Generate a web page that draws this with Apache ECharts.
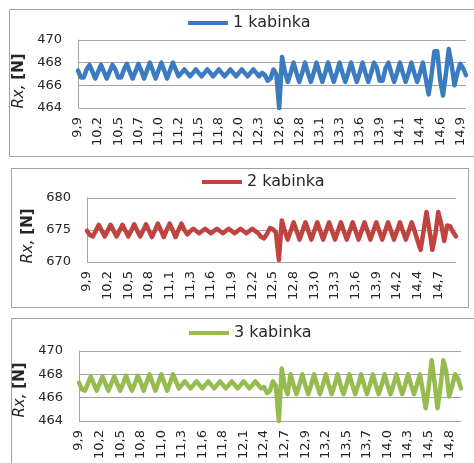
<!DOCTYPE html>
<html>
<head>
<meta charset="utf-8">
<script src="https://cdn.jsdelivr.net/npm/echarts@6/dist/echarts.min.js"></script>
<style>
  html, body { margin: 0; padding: 0; background: #ffffff; }
  #chart { width: 474px; height: 463px; }
</style>
</head>
<body>
<div id="chart"></div>
<script>
// Rx force per cabin over time; samples are equally spaced, every 7th sample carries a time label.
const seriesNames = ['1 kabinka', '2 kabinka', '3 kabinka'];

const ticks1 = ['9,9','10,2','10,5','10,7','11,0','11,2','11,5','11,8','12,0','12,3',
                '12,6','12,8','13,1','13,3','13,6','13,9','14,1','14,4','14,6','14,9'];
const ticks2 = ['9,9','10,2','10,5','10,8','11,1','11,3','11,6','11,9','12,2','12,5',
                '12,8','13,0','13,3','13,6','13,9','14,2','14,4','14,7'];
const ticks3 = ['9,9','10,2','10,5','10,8','11,0','11,3','11,6','11,8','12,1','12,4',
                '12,7','12,9','13,2','13,5','13,7','14,0','14,3','14,5','14,8'];

const cabin1 = [
  467.3,466.7,466.7,467.4,467.8,467.2,466.6,467.2,467.8,467.2,
  466.6,467.2,467.8,467.4,466.7,466.7,467.4,467.9,467.2,466.6,
  467.2,467.9,467.3,466.6,467.3,468.0,467.3,466.6,467.3,468.0,
  467.3,466.6,467.3,468.0,467.4,466.8,467.1,467.4,467.1,466.8,
  467.1,467.4,467.1,466.8,467.1,467.4,467.1,466.8,467.1,467.4,
  467.1,466.8,467.1,467.4,467.1,466.8,467.1,467.4,467.1,466.8,
  467.1,467.4,467.1,466.8,467.1,466.9,466.4,466.6,467.4,467.0,
  464.0,468.5,467.2,466.3,467.1,468.0,467.1,466.3,467.1,468.0,
  467.1,466.3,467.1,468.0,467.1,466.3,467.1,468.0,467.1,466.3,
  467.1,468.0,467.1,466.3,467.1,468.0,467.1,466.3,467.1,468.0,
  467.1,466.3,467.1,468.0,467.5,466.4,466.4,467.5,468.0,467.1,
  466.3,467.1,468.0,467.1,466.3,467.1,468.0,467.1,466.3,467.1,
  468.0,466.6,465.2,466.9,469.0,469.0,466.5,465.1,467.0,469.2,
  467.8,466.0,467.1,467.9,467.5,466.9
];

const cabin2 = [
  674.9,674.2,674.0,674.9,675.8,674.9,674.0,674.9,675.8,674.9,
  674.0,674.9,675.8,674.9,674.0,674.9,675.9,674.9,674.0,674.9,
  675.9,674.9,673.9,674.9,676.0,675.0,673.9,675.0,676.0,675.0,
  673.9,675.0,676.0,675.0,674.3,674.8,675.2,674.85,674.5,674.85,
  675.2,674.85,674.5,674.85,675.2,674.85,674.5,674.85,675.2,674.85,
  674.5,674.85,675.2,674.85,674.5,674.85,675.2,674.85,674.5,673.9,
  673.7,674.4,675.3,675.1,674.6,670.3,676.5,674.8,673.5,674.85,
  676.2,674.85,673.5,674.85,676.2,674.85,673.5,674.85,676.2,674.85,
  673.5,674.85,676.2,674.85,673.5,674.85,676.2,674.85,673.5,674.85,
  676.2,674.85,673.5,674.85,676.2,674.85,673.5,674.85,676.2,674.85,
  673.5,674.85,676.2,674.85,673.5,674.85,676.2,674.85,673.5,674.85,
  676.2,674.8,673.3,671.9,674.8,677.8,675.0,671.9,674.3,677.8,
  675.9,673.3,675.7,675.6,674.7,674.0
];

const cabin3 = [
  467.3,466.7,466.6,467.2,467.8,467.2,466.6,467.2,467.8,467.2,
  466.6,467.2,467.8,467.2,466.6,467.2,467.9,467.2,466.6,467.2,
  467.9,467.3,466.6,467.3,468.0,467.3,466.6,467.3,468.0,467.3,
  466.6,467.3,468.0,467.4,466.8,467.1,467.4,467.1,466.8,467.1,
  467.4,467.1,466.8,467.1,467.4,467.1,466.8,467.1,467.4,467.1,
  466.8,467.1,467.4,467.1,466.8,467.1,467.4,467.1,466.8,467.1,
  467.4,467.1,466.8,466.9,466.4,466.6,467.4,467.0,464.0,468.5,
  467.0,466.3,468.0,467.1,466.3,467.1,468.0,467.1,466.3,467.1,
  468.0,467.1,466.3,467.1,468.0,467.1,466.3,467.1,468.0,467.1,
  466.3,467.1,468.0,467.1,466.3,467.1,468.0,467.1,466.3,467.1,
  468.0,467.1,466.3,467.1,468.0,467.1,466.3,467.1,468.0,467.1,
  466.3,467.1,468.0,467.1,466.3,467.1,468.0,466.6,465.1,466.9,
  469.2,467.3,465.1,466.9,469.2,468.2,466.1,467.0,468.0,467.6,
  466.8
];

const colors = ['#3b7bc0', '#c0433f', '#96bb4e'];
const yRanges = [[464, 470, 2], [670, 680, 5], [464, 470, 2]];
const LABEL_STEP = 7;

const FONT = 'DejaVu Sans';
const TEXT = '#262626';
const GRID_LINE = '#a5a5a5';

const panels = [
  { ticks: ticks1, values: cabin1, grid: { left: 78, top: 40, width: 388, height: 68 },
    legend: { left: 188, top: 15 }, nameGap: 40, namePad: 14, box: [9.5, 9.5, 480, 147] },
  { ticks: ticks2, values: cabin2, grid: { left: 87, top: 198, width: 369, height: 64 },
    legend: { left: 202, top: 174 }, nameGap: 49, namePad: 12, box: [11.5, 168.5, 457, 139] },
  { ticks: ticks3, values: cabin3, grid: { left: 79, top: 351, width: 382, height: 70 },
    legend: { left: 189, top: 325 }, nameGap: 43, namePad: 8, box: [11.5, 318.5, 470, 160] }
];

const option = {
  animation: false,
  backgroundColor: '#ffffff',
  graphic: panels.map(p => ({
    type: 'rect', silent: true, z: -10,
    shape: { x: p.box[0], y: p.box[1], width: p.box[2], height: p.box[3] },
    style: { fill: '#ffffff', stroke: '#a0a0a0', lineWidth: 1 }
  })),
  legend: panels.map((p, k) => ({
    data: [seriesNames[k]],
    left: p.legend.left, top: p.legend.top, padding: 0,
    icon: 'rect', itemWidth: 40, itemHeight: 4,
    textStyle: { fontFamily: FONT, fontSize: 16, color: TEXT }
  })),
  grid: panels.map(p => Object.assign({ containLabel: false }, p.grid)),
  xAxis: panels.map((p, k) => ({
    type: 'category', gridIndex: k, boundaryGap: false,
    data: p.values.map((_, i) => String(i)),
    axisLine: { show: false },
    axisTick: { show: false },
    splitLine: { show: false },
    axisLabel: {
      interval: LABEL_STEP - 1, rotate: 90, margin: 9,
      fontFamily: FONT, fontSize: 13, color: TEXT,
      formatter: v => (+v % LABEL_STEP === 0 ? p.ticks[+v / LABEL_STEP] : '')
    }
  })),
  yAxis: panels.map((p, k) => ({
    type: 'value', gridIndex: k,
    min: yRanges[k][0], max: yRanges[k][1], interval: yRanges[k][2],
    name: '{i|Rx,} {n|[N]}', nameLocation: 'middle', nameRotate: 90, nameGap: p.nameGap,
    nameTextStyle: {
      fontFamily: FONT, fontSize: 15, color: TEXT,
      padding: [0, p.namePad, 0, 0],
      rich: {
        i: { fontFamily: FONT, fontSize: 15, fontStyle: 'italic', color: TEXT },
        n: { fontFamily: FONT, fontSize: 15, fontWeight: 'bold', color: TEXT }
      }
    },
    axisLine: { show: true, lineStyle: { color: GRID_LINE, width: 1 } },
    axisTick: { show: false },
    splitLine: { show: true, lineStyle: { color: GRID_LINE, width: 1 } },
    axisLabel: { margin: 16, fontFamily: FONT, fontSize: 13, color: TEXT }
  })),
  series: panels.map((p, k) => ({
    name: seriesNames[k], type: 'line',
    xAxisIndex: k, yAxisIndex: k,
    data: p.values,
    color: colors[k],
    showSymbol: false, smooth: false,
    lineStyle: { width: 4.5, color: colors[k], join: 'round', cap: 'round' },
    z: 5
  }))
};

echarts.init(document.getElementById('chart'), null, { renderer: 'canvas' }).setOption(option);
</script>
</body>
</html>
